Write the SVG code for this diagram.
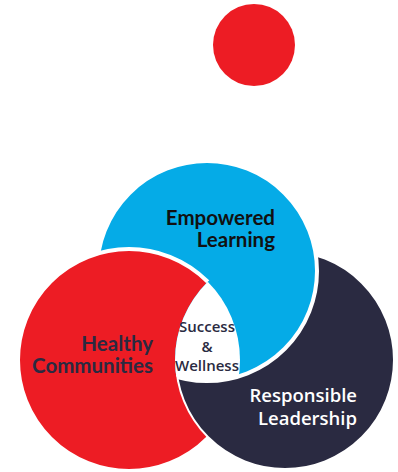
<svg xmlns="http://www.w3.org/2000/svg" width="398" height="472" viewBox="0 0 398 472">
  <style>
    .ring { stroke: #ffffff; stroke-width: 4; }
    .red { fill: #ED1C24; }
    .blue { fill: #05ABE7; }
    .navy { fill: #2A2A41; }
    .lbl { font-family: "Lato", "Liberation Sans", sans-serif; font-weight: bold; font-size: 20.5px; }
    .lbl2 { font-family: "Open Sans", "Liberation Sans", sans-serif; font-weight: 600; font-size: 18.5px; }
    .ctr { font-family: "Open Sans", "Liberation Sans", sans-serif; font-weight: 600; font-size: 15px; fill: #2A2A41; text-anchor: middle; }
  </style>
  <defs>
    <mask id="notDark" maskUnits="userSpaceOnUse" x="0" y="0" width="398" height="472">
      <rect x="0" y="0" width="398" height="472" fill="#fff"/>
      <circle cx="285" cy="360" r="110" fill="#000"/>
    </mask>
    <clipPath id="clipBlue"><circle cx="207" cy="271" r="110"/></clipPath>
    <clipPath id="clipDark"><circle cx="285" cy="360" r="110"/></clipPath>
  </defs>
  <rect width="398" height="472" fill="#ffffff"/>

  <g id="top-dot">
    <circle cx="254" cy="45" r="41" class="red"/>
  </g>

  <g id="healthy-communities">
    <circle cx="129" cy="360" r="111" class="red ring"/>
  </g>
  <g id="responsible-leadership">
    <circle cx="285" cy="360" r="110" class="navy ring"/>
  </g>
  <g id="empowered-learning">
    <circle cx="207" cy="271" r="110" class="blue ring"/>
  </g>
  <g id="healthy-communities-overlap">
    <circle cx="129" cy="360" r="111" class="red ring" mask="url(#notDark)"/>
  </g>
  <g id="success-wellness">
    <g clip-path="url(#clipBlue)">
      <circle cx="129" cy="360" r="111" fill="#ffffff" clip-path="url(#clipDark)"/>
    </g>
  </g>

  <g id="labels">
    <text class="lbl" x="275" y="225" text-anchor="end" fill="#111111">Empowered</text>
    <text class="lbl" x="275" y="247" text-anchor="end" fill="#111111">Learning</text>
    <text class="lbl" x="153" y="351" text-anchor="end" fill="#2A2A41">Healthy</text>
    <text class="lbl" x="153" y="373" text-anchor="end" fill="#2A2A41">Communities</text>
    <text class="lbl2" x="357" y="402" text-anchor="end" fill="#ffffff">Responsible</text>
    <text class="lbl2" x="357" y="425" text-anchor="end" fill="#ffffff">Leadership</text>
    <text class="ctr" x="207" y="332">Success</text>
    <text class="ctr" x="207" y="352">&amp;</text>
    <text class="ctr" x="207" y="371">Wellness</text>
  </g>
</svg>
